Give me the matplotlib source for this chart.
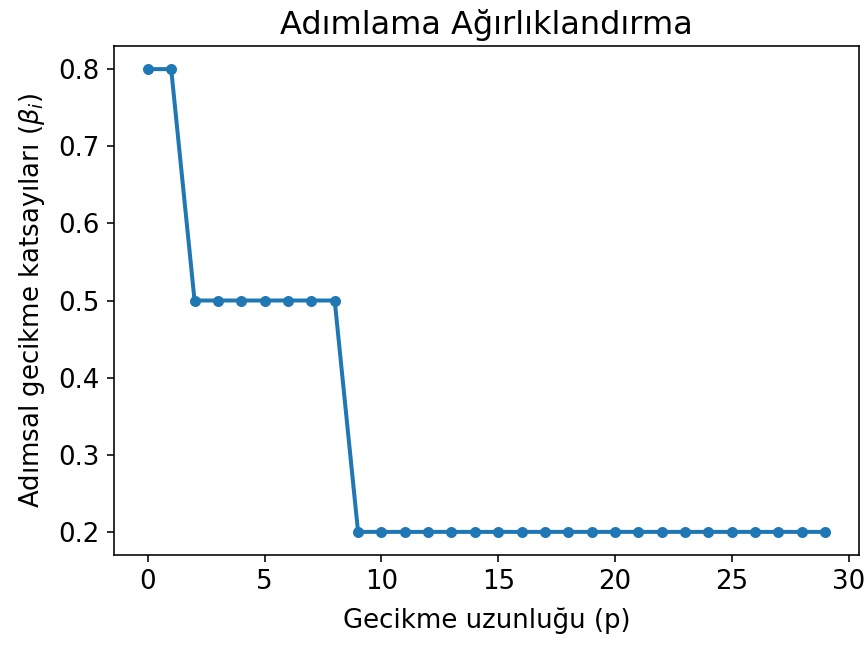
import numpy as np
import matplotlib.pyplot as plt

# Gecikme uzunlukları ve adımsal ağırlık katsayıları
lags = list(range(30))
betas = [0.8, 0.8] + [0.5] * 7 + [0.2] * 21

fig = plt.figure(figsize=(866 / 144, 645 / 144), dpi=144)
ax = fig.add_axes([0.1316, 0.1395, 0.8604, 0.7892])

ax.plot(lags, betas, marker='o', markersize=4.5, linewidth=2, color='#1f77b4')

ax.set_title('Adımlama Ağırlıklandırma', fontsize=16, pad=6)
ax.set_xlabel('Gecikme uzunluğu (p)', fontsize=13, labelpad=6)
ax.set_ylabel(r'Adımsal gecikme katsayıları ($\beta_i$)', fontsize=13, labelpad=6)
ax.tick_params(labelsize=13)

fig.savefig('out.png', dpi=144)
plt.close(fig)
